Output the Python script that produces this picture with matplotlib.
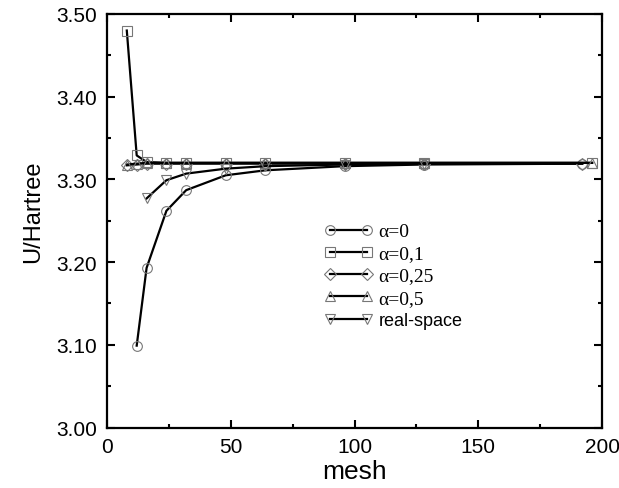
import matplotlib
matplotlib.use('Agg')
import matplotlib.pyplot as plt
from matplotlib.ticker import MultipleLocator, FormatStrFormatter

# data
x_a0 = [12, 16, 24, 32, 48, 64, 96, 128, 192]
y_a0 = [3.099, 3.193, 3.262, 3.287, 3.305, 3.311, 3.316, 3.318, 3.319]

x_a01 = [8, 12, 16, 24, 32, 48, 64, 96, 128, 196]
y_a01 = [3.480, 3.329, 3.321, 3.320, 3.320, 3.320, 3.320, 3.320, 3.320, 3.320]

x_a025 = [8, 12, 16, 24, 32, 48, 64, 96, 128, 192]
y_a025 = [3.317, 3.318, 3.319, 3.319, 3.319, 3.319, 3.319, 3.319, 3.319, 3.319]

x_a05 = [8, 12, 16, 24, 32, 48, 64, 96, 128, 196]
y_a05 = [3.318, 3.319, 3.320, 3.320, 3.320, 3.320, 3.320, 3.320, 3.320, 3.320]

x_rs = [16, 24, 32, 48, 64, 96, 128]
y_rs = [3.277, 3.299, 3.307, 3.313, 3.316, 3.318, 3.319]

labels = ['α=0', 'α=0,1', 'α=0,25', 'α=0,5', 'real-space']

plt.rcParams['font.family'] = ['Liberation Sans', 'DejaVu Sans']

fig = plt.figure(figsize=(6.19, 4.89), dpi=100)
ax = fig.add_axes([107/619, 1 - 428.5/489, 495/619, 413.5/489])

mk = dict(color='black', lw=1.6, ms=7, mfc='none', mec='#777777', mew=0.8)
ax.plot(x_a0, y_a0, marker='o', label=labels[0], **mk)
ax.plot(x_a01, y_a01, marker='s', label=labels[1], **mk)
ax.plot(x_a025, y_a025, marker='D', label=labels[2], **dict(mk, ms=6))
ax.plot(x_a05, y_a05, marker='^', label=labels[3], **mk)
ax.plot(x_rs, y_rs, marker='v', label=labels[4], **mk)

ax.set_xlim(0, 200)
ax.set_ylim(3.0, 3.5)
ax.xaxis.set_major_locator(MultipleLocator(50))
ax.xaxis.set_minor_locator(MultipleLocator(25))
ax.yaxis.set_major_locator(MultipleLocator(0.1))
ax.yaxis.set_minor_locator(MultipleLocator(0.05))
ax.yaxis.set_major_formatter(FormatStrFormatter('%.2f'))
ax.tick_params(which='both', direction='in', top=True, right=True, width=1.5)
ax.tick_params(which='major', length=6, labelsize=15, pad=7)
ax.tick_params(which='minor', length=3)
for s in ax.spines.values():
    s.set_linewidth(1.6)

ax.set_xlabel('mesh', fontsize=19, labelpad=2)
ax.set_ylabel('U/Hartree', fontsize=17)
ax.yaxis.set_label_coords(-0.128, 0.524)

leg = ax.legend(loc='upper left', bbox_to_anchor=(325/619, 1 - 224/489),
                bbox_transform=fig.transFigure, frameon=False, numpoints=2,
                fontsize=13, handlelength=2.6, handletextpad=0.35,
                labelspacing=0.29, borderpad=0, borderaxespad=0)
for t in leg.get_texts()[:4]:
    t.set_fontfamily(['Liberation Serif', 'DejaVu Serif'])
    t.set_fontsize(14)

fig.savefig('out.png', dpi=100)
